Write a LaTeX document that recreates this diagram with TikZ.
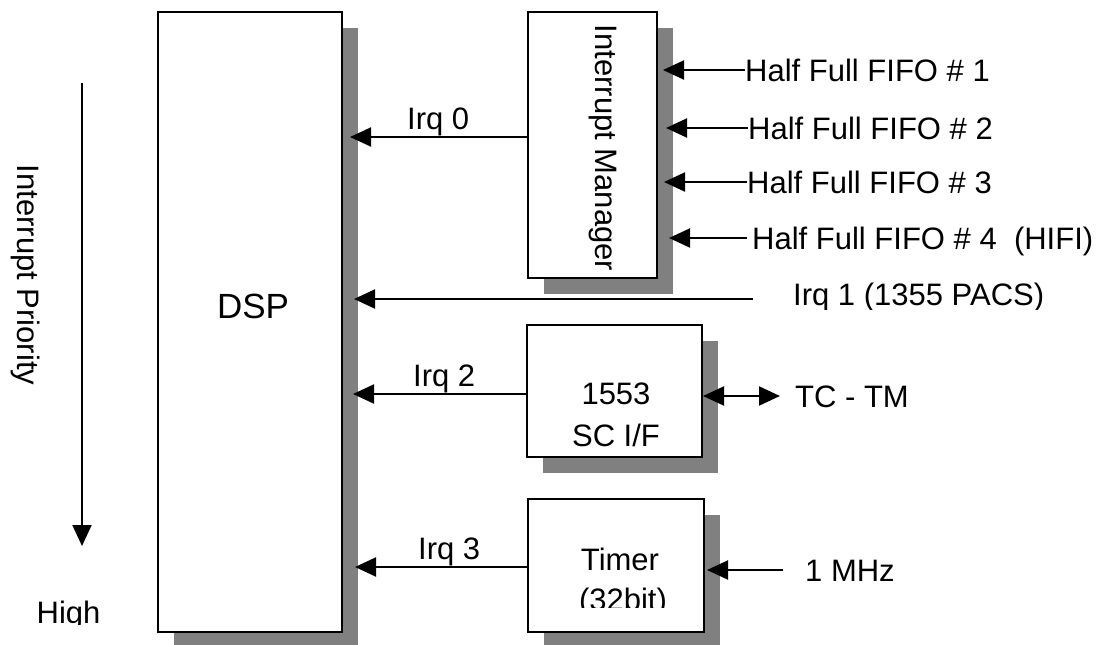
\documentclass[tikz,border=0pt]{standalone}
\usepackage{fontspec}
\setmainfont{Liberation Sans}
\usetikzlibrary{arrows.meta,shadows,calc}
\definecolor{shadowgray}{RGB}{128,128,128}
\begin{document}
\begin{tikzpicture}[x=1pt,y=-1pt,
  box/.style={draw=black, line width=2pt, fill=white, rectangle, inner sep=0pt,
    drop shadow={shadow xshift=16pt, shadow yshift=-16pt, fill=shadowgray, opacity=1}},
  lbl/.style={inner sep=0pt, text height=22pt, text depth=0pt, font=\fontsize{31}{40}\selectfont},
  tipA/.tip={Triangle[length=21pt,width=19pt]},
  arr/.style={line width=2pt, -tipA},
  dbl/.style={line width=2pt, tipA-tipA},
]
\useasboundingbox (0,0) rectangle (1109,645);
\clip (0,0) rectangle (1109,645);

% boxes
\node[box, minimum width=184pt, minimum height=620pt] (dsp) at (250,322) {};
\node[box, minimum width=129pt, minimum height=266pt] (im) at (592.5,145) {};
\node[box, minimum width=175pt, minimum height=132pt] (sc) at (614.5,391) {};
\node[box, minimum width=176pt, minimum height=133pt] (tm) at (616,565.5) {};

% box texts
\node[lbl, font=\fontsize{35}{42}\selectfont, text height=25pt] (dspt) at (253,306) {DSP};
\begin{scope}
  \clip (529,13) rectangle (656,277);
  \node[lbl, rotate=-90] (imt) at (606,148) {Interrupt Manager};
\end{scope}
\node[lbl] (sct1) at (616,393) {1553};
\node[lbl] (sct2) at (616,435) {SC I/F};
\node[lbl] (tmt1) at (620,559) {Timer};
\begin{scope}
  \clip (529,500) rectangle (703,607);
  \node[lbl] (tmt2) at (623,599) {(32bit)};
\end{scope}

% priority
\node[lbl, rotate=-90] (prio) at (28.5,275) {Interrupt Priority};
\coordinate (pa) at (82,83);
\coordinate (pb) at (82,546);
\draw[arr] (pa) -- (pb);
\begin{scope}
  \clip (0,590) rectangle (150,624);
  \node[lbl] (high) at (68.5,612.5) {High};
\end{scope}

% FIFO inputs
\node[lbl, anchor=west] (f1) at (745,70) {Half Full FIFO \# 1};
\node[lbl, anchor=west] (f2) at (748,128) {Half Full FIFO \# 2};
\node[lbl, anchor=west] (f3) at (747,182) {Half Full FIFO \# 3};
\node[lbl, anchor=west] (f4) at (752,238) {Half Full FIFO \# 4\ \ (HIFI)};
\draw[arr, shorten >=5pt] (f1.west) -- (im.east |- f1.west);
\draw[arr, shorten >=8pt] (f2.west) -- (im.east |- f2.west);
\draw[arr, shorten >=6pt] (f3.west) -- (im.east |- f3.west);
\draw[arr, shorten <=5pt, shorten >=11pt] (f4.west) -- (im.east |- f4.west);

% Irq lines
\node[lbl, anchor=west] (i0t) at (407,118) {Irq 0};
\draw[arr, shorten >=7pt] (im.west |- 0,137) -- (dsp.east |- 0,137);

\begin{scope}
  \clip (780,260) rectangle (1109,309.5);
  \node[lbl, anchor=west] (i1t) at (793,294) {Irq 1 (1355 PACS)};
\end{scope}
\draw[arr, shorten <=40pt, shorten >=11pt] (i1t.west |- 0,299) -- (dsp.east |- 0,299);

\node[lbl, anchor=west] (i2t) at (413,375) {Irq 2};
\draw[arr, shorten >=10pt] (sc.west |- 0,394) -- (dsp.east |- 0,394);

\node[lbl, anchor=west] (i3t) at (418,548) {Irq 3};
\draw[arr, shorten >=12pt] (tm.west |- 0,567) -- (dsp.east |- 0,567);

% TC - TM
\node[lbl, anchor=west] (tct) at (795,396) {TC - TM};
\draw[dbl, shorten >=15pt] (sc.east |- tct.west) -- (tct.west);

% 1 MHz
\node[lbl, anchor=west] (mhz) at (805,570) {1 MHz};
\draw[arr, shorten <=22pt, shorten >=2pt] (mhz.west) -- (tm.east |- mhz.west);
\end{tikzpicture}
\end{document}
